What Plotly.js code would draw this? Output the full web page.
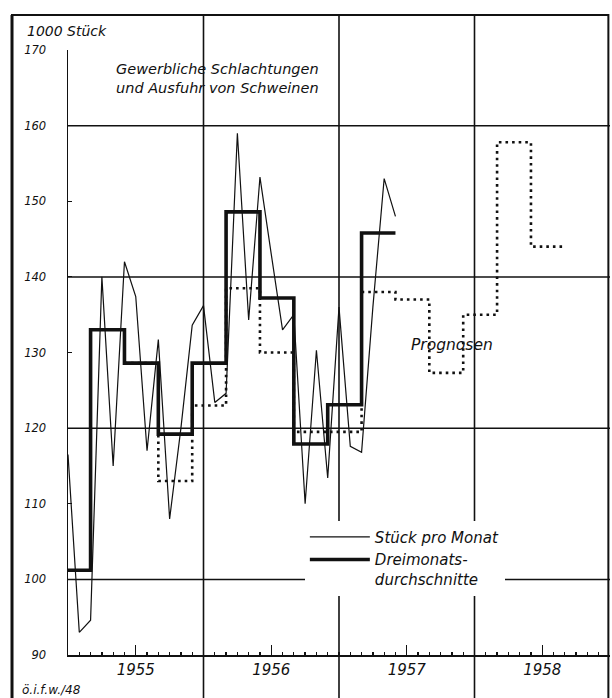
<!DOCTYPE html>
<html>
<head>
<meta charset="utf-8">
<script src="https://cdn.plot.ly/plotly-3.0.1.min.js"></script>
<style>
  html, body { margin: 0; padding: 0; background: #fff; }
  #chart { width: 612px; height: 698px; }
</style>
</head>
<body>
<div id="chart"></div>
<script>
// Schweine: gewerbliche Schlachtungen + Ausfuhr, 1000 Stück.
// x = Monatsende, gezählt ab Dez. 1954 (0) – Achse beginnt bei 0.

const MONATE = [0, 1, 2, 3, 4, 5, 6, 7, 8, 9, 10, 11, 12, 13, 14,
  15, 16, 17, 18, 19, 20, 21, 22, 23, 24, 25, 26, 27, 28, 29];
const STUECK = [116.5, 93, 94.6, 140, 115, 142, 137.4, 117, 131.7, 108,
  120, 133.6, 136.2, 123.4, 124.6, 159, 134.3, 153.2, 143, 133,
  135, 110, 130.3, 113.4, 136, 117.6, 116.8, 136, 153, 148];

// Dreimonatsdurchschnitte: Beginn des Quartals / Wert
const QUARTAL_START = [-1, 2, 5, 8, 11, 14, 17, 20, 23, 26];
const DURCHSCHNITT = [101.2, 133, 128.6, 119.2, 128.6, 148.6, 137.2, 117.9, 123.1, 145.8];
const QUARTAL_ENDE = 29;

// Prognosen (punktiert)
const PROGNOSE_START = [5, 8, 11, 14, 17, 20, 23, 26, 29, 32, 35, 38, 41];
const PROGNOSE = [128.6, 113, 123, 138.5, 130, 119.5, 119.5, 138, 137, 127.3, 135, 157.8, 144];
const PROGNOSE_ENDE = 44;

const JAHRE = ['1955', '1956', '1957', '1958'];
const JAHR_MITTE = [6, 18, 30, 42];
const JAHR_GRENZE = [12, 24, 36];
const Y_GITTER = [100, 120, 140, 160];

const FONT = '"DejaVu Sans", "Liberation Sans", sans-serif';
const INK = '#111';

// Stufenlinie: letzter Wert bis zum Ende verlängern
function stufen(starts, values, end) {
  return { x: [...starts, end], y: [...values, values[values.length - 1]] };
}

const traces = [
  {
    ...stufen(PROGNOSE_START, PROGNOSE, PROGNOSE_ENDE),
    mode: 'lines', line: { shape: 'hv', color: INK, width: 2.6, dash: '2.6px,4px' },
    showlegend: false, hoverinfo: 'skip',
  },
  {
    ...stufen(QUARTAL_START, DURCHSCHNITT, QUARTAL_ENDE),
    name: 'Dreimonats-<br>durchschnitte', legendrank: 2,
    mode: 'lines', line: { shape: 'hv', color: INK, width: 3.6 },
  },
  {
    x: MONATE, y: STUECK, name: 'Stück pro Monat', legendrank: 1,
    mode: 'lines', line: { color: INK, width: 1.2 },
  },
];

const shapes = [];
// Jahresgrenzen über die ganze Höhe
JAHR_GRENZE.forEach((m) => shapes.push({
  type: 'line', xref: 'x', yref: 'paper', x0: m, x1: m, y0: -0.09, y1: 1.058,
  line: { color: INK, width: 1.6 }, layer: 'below',
}));
Y_GITTER.forEach((v) => shapes.push({
  type: 'line', xref: 'paper', yref: 'y', x0: 0, x1: 1, y0: v, y1: v,
  line: { color: INK, width: 1.5 }, layer: 'below',
}));
// Rahmen
shapes.push({
  type: 'rect', xref: 'paper', yref: 'paper', x0: -0.1033, x1: 0.997, y0: -0.1, y1: 1.058,
  line: { color: INK, width: 2 }, layer: 'below',
});
shapes.push({
  type: 'line', xref: 'paper', yref: 'paper', x0: -0.1033, x1: -0.1033, y0: -0.1, y1: 1.058,
  line: { color: INK, width: 3 }, layer: 'below',
});

const italic = (size) => ({ family: FONT, size, color: INK, style: 'italic' });

const annotations = [
  {
    xref: 'paper', yref: 'paper', x: -0.079, y: 1.031, xanchor: 'left', yanchor: 'middle',
    text: '1000 Stück', showarrow: false, font: italic(14),
  },
  {
    xref: 'paper', yref: 'paper', x: 0.085, y: 0.985, xanchor: 'left', yanchor: 'top',
    align: 'left', text: 'Gewerbliche Schlachtungen<br>und Ausfuhr von Schweinen',
    showarrow: false, font: italic(14.5),
  },
  {
    xref: 'x', yref: 'y', x: 30.2, y: 131, xanchor: 'left', yanchor: 'middle',
    text: 'Prognosen', showarrow: false, font: italic(15.5),
  },
  {
    xref: 'paper', yref: 'paper', x: -0.088, y: -0.058, xanchor: 'left', yanchor: 'middle',
    text: 'ö.i.f.w./48', showarrow: false, font: italic(12),
  },
];

const layout = {
  width: 612, height: 698,
  margin: { l: 68, r: 2, t: 50, b: 43 },
  paper_bgcolor: '#fff', plot_bgcolor: '#fff',
  font: { family: FONT, color: INK },
  showlegend: true,
  legend: {
    x: 0.437, y: 0.222, xanchor: 'left', yanchor: 'top',
    bgcolor: '#fff', borderwidth: 0, valign: 'top', tracegroupgap: 0,
    font: italic(15), itemwidth: 60,
  },
  xaxis: {
    range: [0, 48], showgrid: false, zeroline: false,
    showline: true, linecolor: INK, linewidth: 2,
    tickvals: JAHR_MITTE, ticktext: JAHRE, ticks: 'inside', ticklen: 10,
    tickcolor: INK, tickwidth: 1.3, tickfont: italic(15),
    minor: { dtick: 1, tick0: 0, ticks: 'inside', ticklen: 3, tickcolor: INK, showgrid: false },
  },
  yaxis: {
    range: [90, 170], dtick: 10, showgrid: false, zeroline: false,
    showline: true, linecolor: INK, linewidth: 1.5,
    ticks: 'inside', ticklen: 4, tickcolor: INK, tickfont: italic(11.5),
    ticklabelstandoff: 18,
  },
  shapes, annotations,
};

Plotly.newPlot('chart', traces, layout, { displayModeBar: false, staticPlot: true });
</script>
</body>
</html>
